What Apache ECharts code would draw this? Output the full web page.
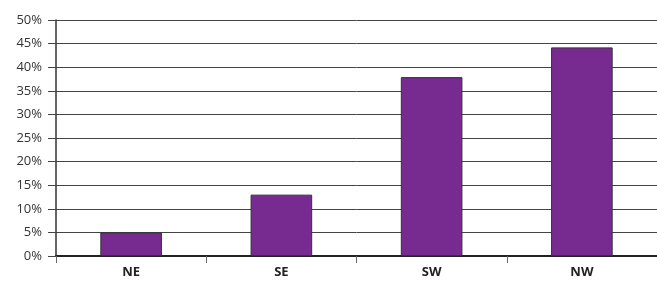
<!DOCTYPE html>
<html><head><meta charset="utf-8">
<script src="https://cdn.jsdelivr.net/npm/echarts@6/dist/echarts.min.js"></script>
<style>html,body{margin:0;padding:0;background:#fff}#c{width:657px;height:282px}</style>
</head><body><div id="c"></div>
<script>
const categories = ['NE', 'SE', 'SW', 'NW'];
const values = [5.0, 13.0, 37.9, 44.2];
const yTicks = [0, 5, 10, 15, 20, 25, 30, 35, 40, 45, 50];

const chart = echarts.init(document.getElementById('c'), null, {renderer: 'canvas'});
chart.setOption({
  animation: false,
  grid: {left: 56, right: 0, top: 20, bottom: 26},
  xAxis: {
    type: 'category',
    data: categories,
    boundaryGap: true,
    axisLine: {show: true, lineStyle: {color: '#222', width: 2}},
    axisTick: {show: true, length: 7, lineStyle: {color: '#666', width: 1}},
    axisLabel: {color: '#222', fontFamily: 'Open Sans', fontWeight: 'bold', fontSize: 13, margin: 10},
    splitLine: {show: false}
  },
  yAxis: {
    type: 'value',
    min: yTicks[0],
    max: yTicks[yTicks.length - 1],
    interval: 5,
    axisLine: {show: true, lineStyle: {color: '#333', width: 1.5}},
    axisTick: {show: true, length: 8, lineStyle: {color: '#444', width: 1}},
    axisLabel: {color: '#333', fontFamily: 'Open Sans', fontSize: 13, margin: 14, formatter: '{value}%'},
    splitLine: {show: true, lineStyle: {color: '#444', width: 1}}
  },
  series: [{
    type: 'bar',
    data: values,
    barWidth: '41%',
    itemStyle: {color: '#772B90', borderColor: '#333', borderWidth: 1}
  }]
});
</script></body></html>
